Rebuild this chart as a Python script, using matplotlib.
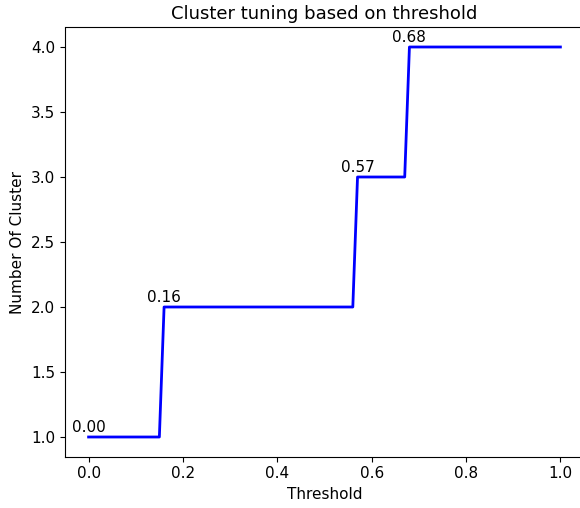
import matplotlib
matplotlib.use("Agg")
import matplotlib.pyplot as plt

# corner points of the step curve (threshold -> number of clusters)
thresholds = [0.00, 0.15, 0.16, 0.56, 0.57, 0.67, 0.68, 1.00]
n_clusters = [1, 1, 2, 2, 3, 3, 4, 4]

# first threshold of each cluster count, used for the labels
label_x = [0.00, 0.16, 0.57, 0.68]
label_y = [1, 2, 3, 4]

plt.rcParams["font.size"] = 11

fig = plt.figure(figsize=(5.8, 5.08), dpi=100)
ax = fig.add_axes([65 / 580, 51.5 / 508, 519 / 580, 429 / 508])

ax.plot(thresholds, n_clusters, color="blue", lw=2)

for x, y in zip(label_x, label_y):
    ax.annotate(f"{x:.2f}", (x, y), textcoords="offset points", xytext=(0, 1.5),
                ha="center", va="bottom", fontsize=11)

ax.set_title("Cluster tuning based on threshold", fontsize=13)
ax.set_xlabel("Threshold")
ax.set_ylabel("Number Of Cluster")

plt.savefig("out.png", dpi=100)
